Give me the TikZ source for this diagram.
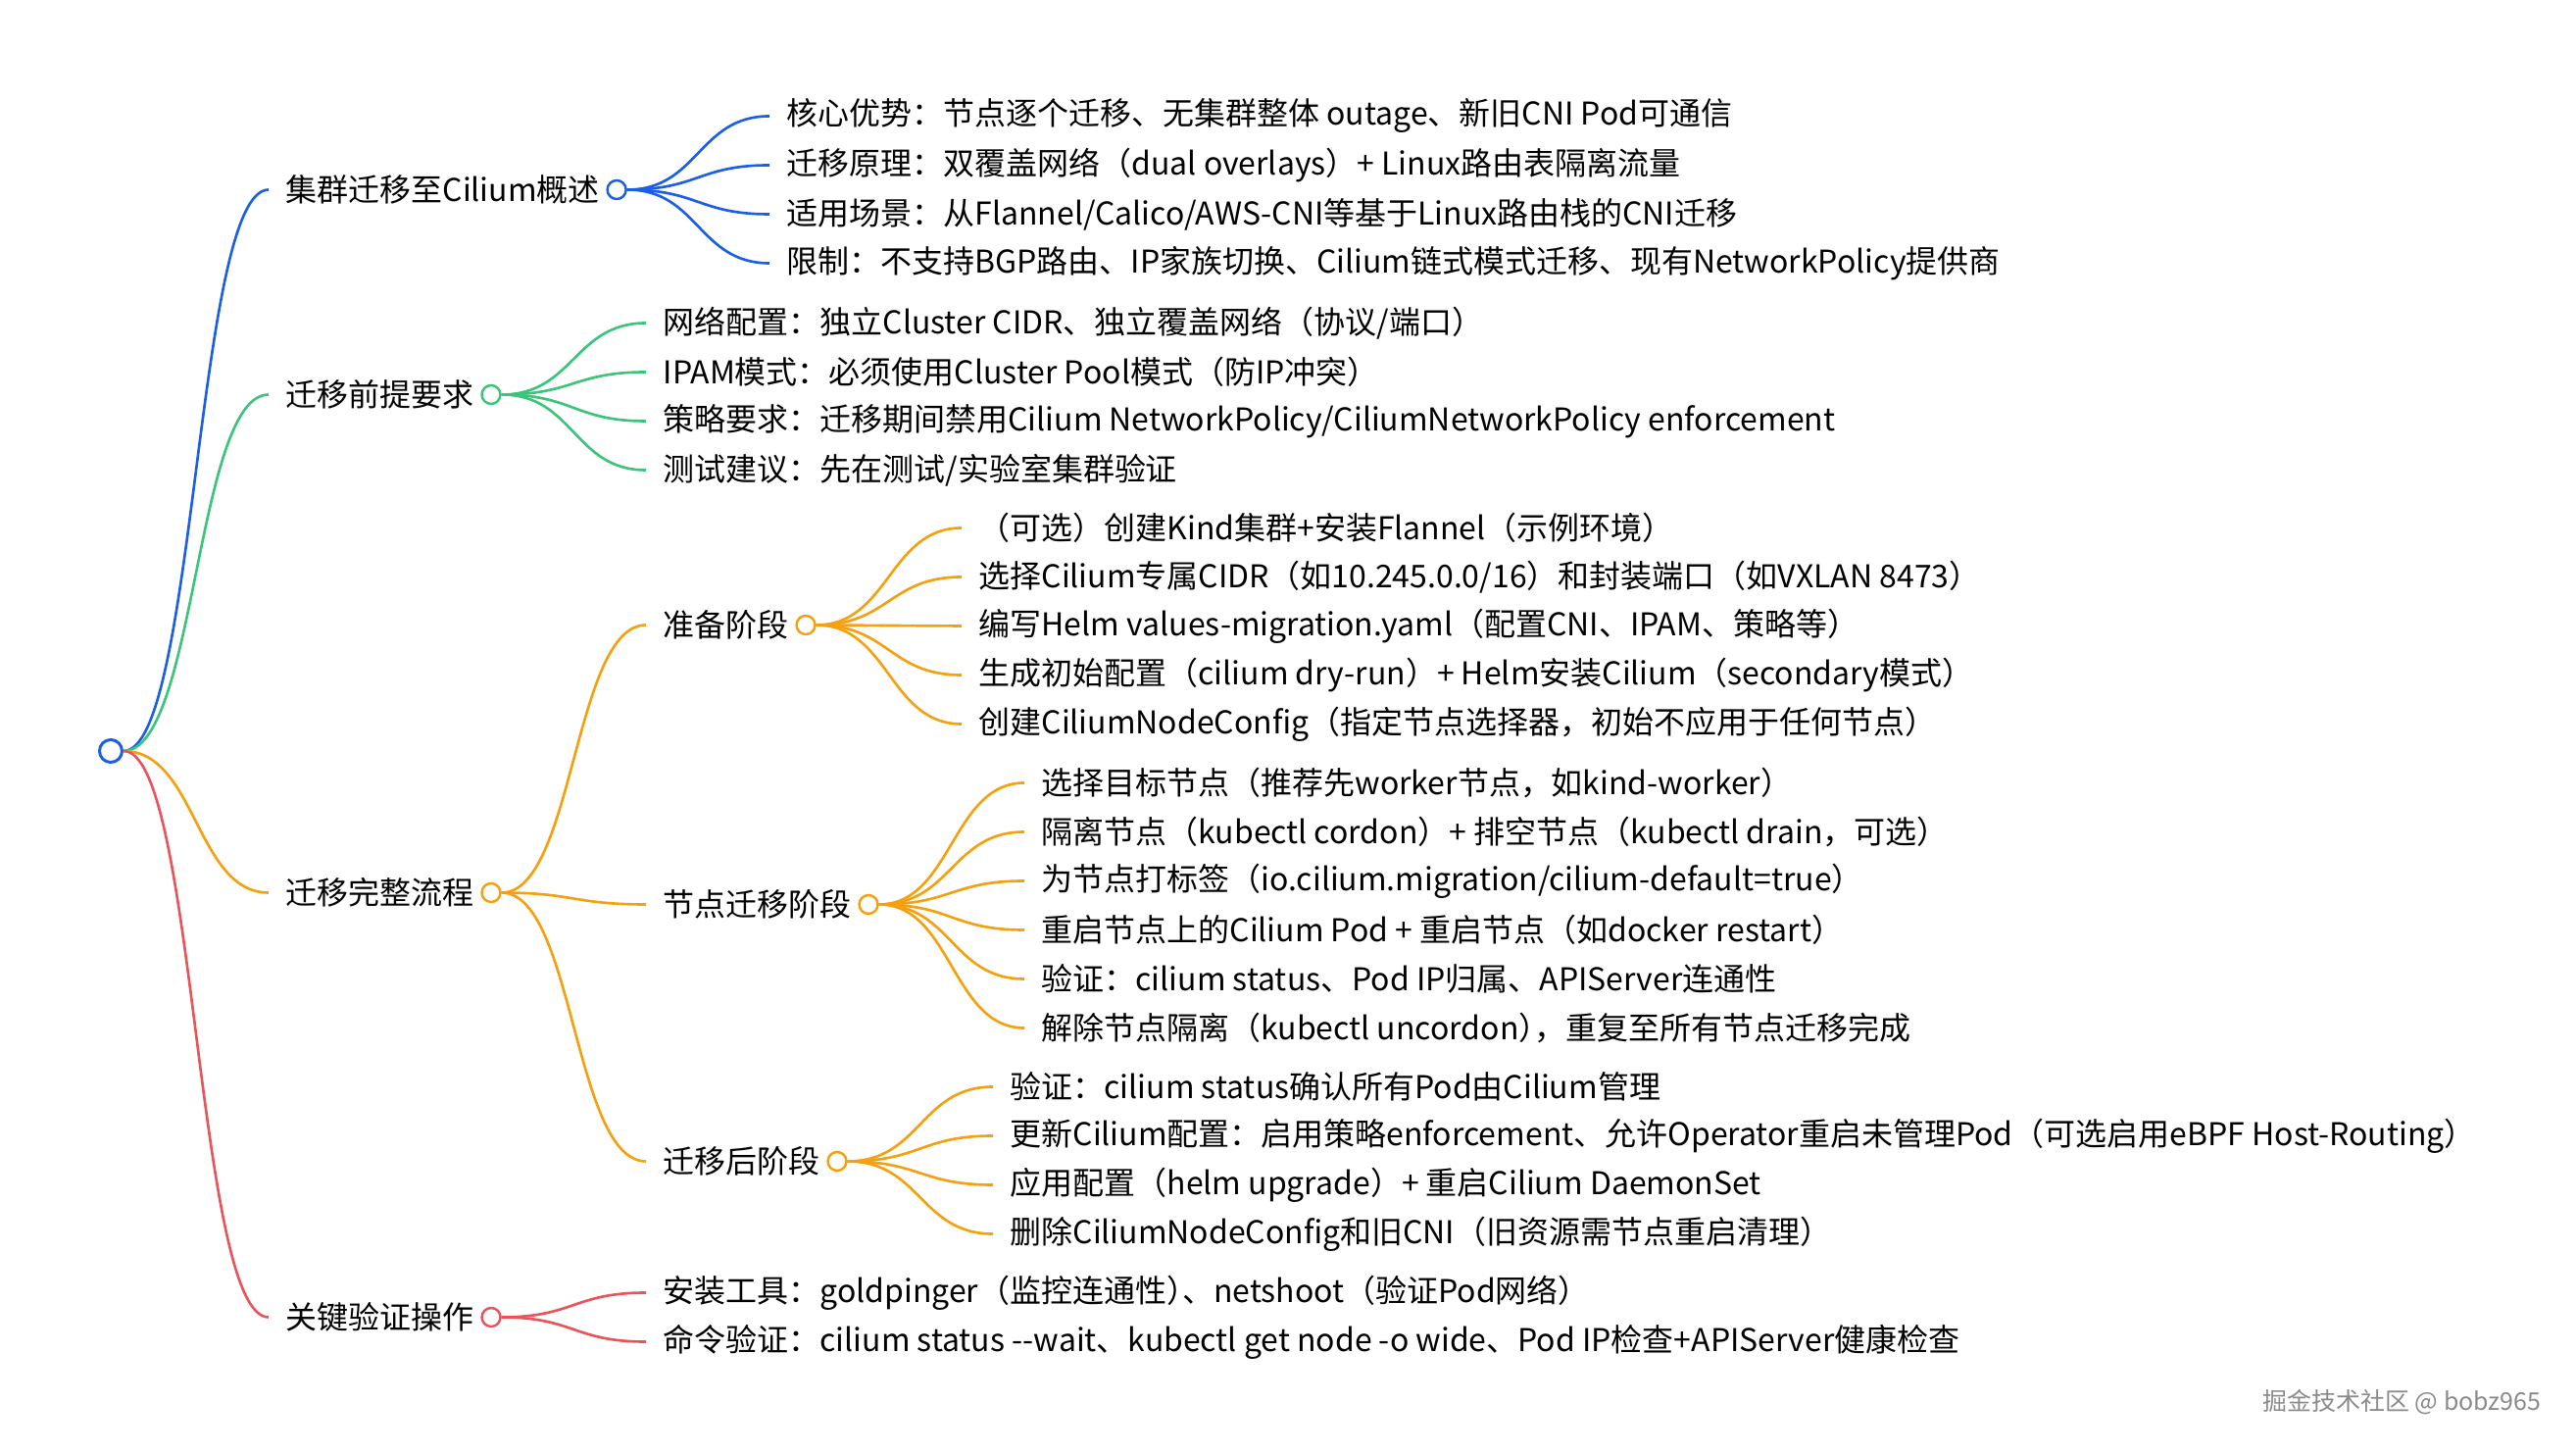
\documentclass[tikz,border=0pt]{standalone}
\usepackage{fontspec}
\setmainfont{Noto Sans CJK SC}
\usepackage{tikz}
\usetikzlibrary{positioning,calc}
\definecolor{mmblue}{HTML}{1A5FE6}
\definecolor{mmgreen}{HTML}{3BC47A}
\definecolor{mmorange}{HTML}{F5A00F}
\definecolor{mmred}{HTML}{E9545B}
\definecolor{marktext}{HTML}{8A8A8A}

\begin{document}
\begin{tikzpicture}[
    topic/.style={anchor=west, inner xsep=0.17cm, inner ysep=0pt, yshift=-0.025cm,
                  font=\fontsize{9.1pt}{11pt}\selectfont},
    dot/.style={draw, circle, minimum size=0.19cm, inner sep=0pt, line width=0.7pt},
    branch/.style={line width=0.75pt,
        to path={let \p1=(\tikztostart), \p2=(\tikztotarget) in
          .. controls ({0.5*\x1+0.5*\x2},\y1) and ({0.5*\x1+0.5*\x2},\y2) .. (\tikztotarget)}}
]
\useasboundingbox (0,0) rectangle (26.28,-14.82);

% --- root ---
\node[dot, draw=mmblue, minimum size=0.23cm, line width=0.85pt] (root) at (1.13,-7.66) {};

% --- first level ---
\node[topic] (ov)   at (2.74,-1.91)  {集群迁移至Cilium概述};
\node[topic] (pre)  at (2.74,-4.00)  {迁移前提要求};
\node[topic] (flow) at (2.74,-9.08)  {迁移完整流程};
\node[topic] (chk)  at (2.74,-13.41) {关键验证操作};
\node[dot, draw=mmblue,   right=-0.11cm of ov]   (ovdot)   {};
\node[dot, draw=mmgreen,  right=-0.11cm of pre]  (predot)  {};
\node[dot, draw=mmorange, right=-0.11cm of flow] (flowdot) {};
\node[dot, draw=mmred,    right=-0.11cm of chk]  (chkdot)  {};

% --- overview ---
\node[topic] (ov1) at (7.85,-1.16) {核心优势：节点逐个迁移、无集群整体 outage、新旧CNI Pod可通信};
\node[topic] (ov2) at (7.85,-1.66) {迁移原理：双覆盖网络（dual overlays）+ Linux路由表隔离流量};
\node[topic] (ov3) at (7.85,-2.16) {适用场景：从Flannel/Calico/AWS-CNI等基于Linux路由栈的CNI迁移};
\node[topic] (ov4) at (7.85,-2.66) {限制：不支持BGP路由、IP家族切换、Cilium链式模式迁移、现有NetworkPolicy提供商};

% --- prerequisites ---
\node[topic] (pre1) at (6.59,-3.27) {网络配置：独立Cluster CIDR、独立覆盖网络（协议/端口）};
\node[topic] (pre2) at (6.59,-3.77) {IPAM模式：必须使用Cluster Pool模式（防IP冲突）};
\node[topic] (pre3) at (6.59,-4.27) {策略要求：迁移期间禁用Cilium NetworkPolicy/CiliumNetworkPolicy enforcement};
\node[topic] (pre4) at (6.59,-4.77) {测试建议：先在测试/实验室集群验证};

% --- migration flow ---
\node[topic] (prep) at (6.59,-6.35)  {准备阶段};
\node[topic] (mig)  at (6.59,-9.20)  {节点迁移阶段};
\node[topic] (post) at (6.59,-11.82) {迁移后阶段};
\node[dot, draw=mmorange, right=-0.11cm of prep] (prepdot) {};
\node[dot, draw=mmorange, right=-0.11cm of mig]  (migdot)  {};
\node[dot, draw=mmorange, right=-0.11cm of post] (postdot) {};

\node[topic] (prep1) at (9.81,-5.36) {（可选）创建Kind集群+安装Flannel（示例环境）};
\node[topic] (prep2) at (9.81,-5.86) {选择Cilium专属CIDR（如10.245.0.0/16）和封装端口（如VXLAN 8473）};
\node[topic] (prep3) at (9.81,-6.36) {编写Helm values-migration.yaml（配置CNI、IPAM、策略等）};
\node[topic] (prep4) at (9.81,-6.86) {生成初始配置（cilium dry-run）+ Helm安装Cilium（secondary模式）};
\node[topic] (prep5) at (9.81,-7.36) {创建CiliumNodeConfig（指定节点选择器，初始不应用于任何节点）};

\node[topic] (mig1) at (10.45,-7.96)  {选择目标节点（推荐先worker节点，如kind-worker）};
\node[topic] (mig2) at (10.45,-8.46)  {隔离节点（kubectl cordon）+ 排空节点（kubectl drain，可选）};
\node[topic] (mig3) at (10.45,-8.96)  {为节点打标签（io.cilium.migration/cilium-default=true）};
\node[topic] (mig4) at (10.45,-9.46)  {重启节点上的Cilium Pod + 重启节点（如docker restart）};
\node[topic] (mig5) at (10.45,-9.96)  {验证：cilium status、Pod IP归属、APIServer连通性};
\node[topic] (mig6) at (10.45,-10.46) {解除节点隔离（kubectl uncordon）\kern-0.5em，重复至所有节点迁移完成};

\node[topic] (post1) at (10.13,-11.06) {验证：cilium status确认所有Pod由Cilium管理};
\node[topic] (post2) at (10.13,-11.56) {更新Cilium配置：启用策略enforcement、允许Operator重启未管理Pod（可选启用eBPF Host-Routing）};
\node[topic] (post3) at (10.13,-12.06) {应用配置（helm upgrade）+ 重启Cilium DaemonSet};
\node[topic] (post4) at (10.13,-12.56) {删除CiliumNodeConfig和旧CNI（旧资源需节点重启清理）};

% --- checks ---
\node[topic] (chk1) at (6.59,-13.16) {安装工具：goldpinger（监控连通性）\kern-0.5em、netshoot（验证Pod网络）};
\node[topic] (chk2) at (6.59,-13.66) {命令验证：cilium status -{}-wait、kubectl get node -o wide、Pod IP检查+APIServer健康检查};

% --- watermark ---
\node[anchor=east, inner sep=0pt, text=marktext, font=\fontsize{7.1pt}{8pt}\selectfont] (mark) at (25.93,-14.30) {掘金技术社区 @ bobz965};

% --- connections: root ---
\draw[branch, mmblue]   (root.east) to (ov.west);
\draw[branch, mmgreen]  (root.east) to (pre.west);
\draw[branch, mmorange] (root.east) to (flow.west);
\draw[branch, mmred]    (root.east) to (chk.west);

% --- connections: overview ---
\draw[branch, mmblue] (ovdot.east) to (ov1.west);
\draw[branch, mmblue] (ovdot.east) to (ov2.west);
\draw[branch, mmblue] (ovdot.east) to (ov3.west);
\draw[branch, mmblue] (ovdot.east) to (ov4.west);

% --- connections: prerequisites ---
\draw[branch, mmgreen] (predot.east) to (pre1.west);
\draw[branch, mmgreen] (predot.east) to (pre2.west);
\draw[branch, mmgreen] (predot.east) to (pre3.west);
\draw[branch, mmgreen] (predot.east) to (pre4.west);

% --- connections: flow ---
\draw[branch, mmorange] (flowdot.east) to (prep.west);
\draw[branch, mmorange] (flowdot.east) to (mig.west);
\draw[branch, mmorange] (flowdot.east) to (post.west);

\draw[branch, mmorange] (prepdot.east) to (prep1.west);
\draw[branch, mmorange] (prepdot.east) to (prep2.west);
\draw[branch, mmorange] (prepdot.east) to (prep3.west);
\draw[branch, mmorange] (prepdot.east) to (prep4.west);
\draw[branch, mmorange] (prepdot.east) to (prep5.west);

\draw[branch, mmorange] (migdot.east) to (mig1.west);
\draw[branch, mmorange] (migdot.east) to (mig2.west);
\draw[branch, mmorange] (migdot.east) to (mig3.west);
\draw[branch, mmorange] (migdot.east) to (mig4.west);
\draw[branch, mmorange] (migdot.east) to (mig5.west);
\draw[branch, mmorange] (migdot.east) to (mig6.west);

\draw[branch, mmorange] (postdot.east) to (post1.west);
\draw[branch, mmorange] (postdot.east) to (post2.west);
\draw[branch, mmorange] (postdot.east) to (post3.west);
\draw[branch, mmorange] (postdot.east) to (post4.west);

% --- connections: checks ---
\draw[branch, mmred] (chkdot.east) to (chk1.west);
\draw[branch, mmred] (chkdot.east) to (chk2.west);

\end{tikzpicture}
\end{document}
